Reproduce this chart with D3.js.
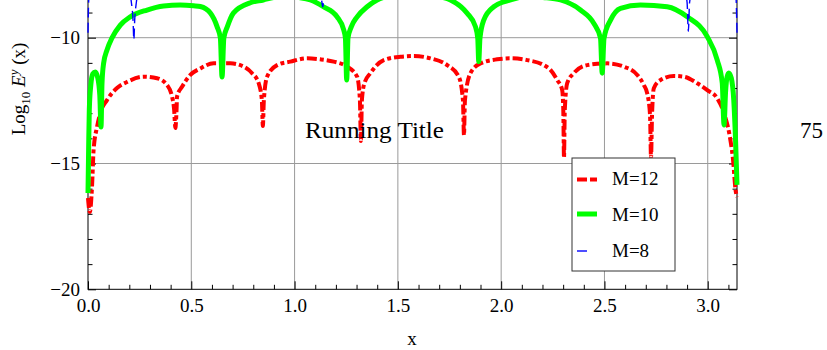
<!DOCTYPE html>
<html>
<head>
<meta charset="utf-8">
<script src="https://cdn.jsdelivr.net/npm/d3@7"></script>
<style>
  html, body { margin: 0; padding: 0; background: #fff; }
  svg { display: block; font-family: "Liberation Serif", "DejaVu Serif", serif; }
</style>
</head>
<body>
<svg id="chart" width="827" height="350"></svg>
<script>
// ---------- data ----------
const seriesNames = ["M=12", "M=10", "M=8"];
const xMajorTicks = [0.0, 0.5, 1.0, 1.5, 2.0, 2.5, 3.0];
const yMajorTicks = [-20, -15, -10];
const yGridTicks = [-15, -10, -5];
const xDomain = [0, Math.PI];
const yDomain = [-20, -5];

// M=12 (red, dot-dashed)
const m12 = [
  [0.0000,-16.37],[0.0087,-16.93],[0.0194,-15.93],[0.0271,-14.46],[0.0436,-13.55],[0.0596,-12.99],
  [0.0920,-12.48],[0.1404,-12.00],[0.1889,-11.76],[0.2692,-11.55],[0.3341,-11.61],[0.3826,-11.88],
  [0.4068,-12.34],[0.4170,-12.87],[0.4228,-13.59],[0.4286,-12.87],[0.4310,-12.34],[0.4552,-11.95],
  [0.4954,-11.48],[0.5438,-11.22],[0.6082,-11.02],[0.6891,-11.02],[0.7535,-11.15],[0.7942,-11.41],
  [0.8262,-11.81],[0.8416,-12.48],[0.8465,-13.51],[0.8513,-12.48],[0.8668,-11.55],[0.9153,-11.09],
  [0.9797,-10.95],[1.0605,-10.82],[1.1250,-10.86],[1.1893,-10.95],[1.2542,-11.15],[1.3027,-11.55],
  [1.3162,-12.48],[1.3211,-14.11],[1.3259,-12.48],[1.3380,-11.81],[1.3670,-11.41],[1.4315,-10.89],
  [1.5123,-10.76],[1.5768,-10.73],[1.6576,-10.82],[1.7385,-11.09],[1.7947,-11.55],[1.8150,-12.48],
  [1.8199,-13.87],[1.8247,-12.48],[1.8513,-11.41],[1.8998,-11.02],[1.9806,-10.86],[2.0450,-10.82],
  [2.1259,-10.89],[2.2063,-11.09],[2.2387,-11.28],[2.2712,-11.68],[2.2954,-12.08],[2.3007,-12.87],
  [2.3041,-14.78],[2.3080,-12.87],[2.3196,-11.81],[2.3516,-11.41],[2.4165,-11.09],[2.5133,-11.02],
  [2.5937,-11.15],[2.6586,-11.48],[2.6906,-11.88],[2.7070,-12.21],[2.7206,-13.07],[2.7254,-14.78],
  [2.7303,-13.07],[2.7390,-12.01],[2.7714,-11.68],[2.8358,-11.52],[2.8843,-11.55],[2.9492,-11.81],
  [2.9976,-12.08],[3.0460,-12.41],[3.0814,-13.07],[3.1056,-13.87],[3.1225,-14.86],[3.1346,-16.05],
  [3.1416,-16.33]
];

// M=10 (green, solid thick)
const m10 = [
  [0.0000,-16.17],[0.0030,-14.46],[0.0063,-12.87],[0.0136,-11.88],[0.0232,-11.44],[0.0354,-11.36],
  [0.0475,-11.60],[0.0571,-12.28],[0.0630,-13.55],[0.0678,-11.81],[0.0755,-11.02],[0.0920,-10.49],
  [0.1162,-10.01],[0.1564,-9.50],[0.2048,-9.17],[0.2857,-8.90],[0.3661,-8.74],[0.4470,-8.70],
  [0.5114,-8.73],[0.5438,-8.76],[0.5923,-9.02],[0.6247,-9.56],[0.6407,-10.01],[0.6489,-11.56],
  [0.6576,-10.01],[0.6746,-9.56],[0.7036,-9.02],[0.7860,-8.61],[0.8489,-8.50],[0.9000,-8.40],
  [0.9600,-8.35],[1.0200,-8.40],[1.0765,-8.50],[1.1395,-8.77],[1.2058,-9.17],[1.2378,-9.69],
  [1.2460,-10.01],[1.2523,-11.68],[1.2586,-10.01],[1.2750,-9.56],[1.3027,-9.17],[1.3511,-8.77],
  [1.3995,-8.50],[1.4700,-8.33],[1.5710,-8.27],[1.6700,-8.33],[1.7545,-8.50],[1.8354,-9.03],
  [1.8755,-9.56],[1.8867,-10.02],[1.8915,-10.95],[1.8973,-10.02],[1.9157,-9.30],[1.9642,-8.77],
  [2.0450,-8.50],[2.1300,-8.35],[2.2000,-8.40],[2.2872,-8.50],[2.3840,-8.90],[2.4484,-9.43],
  [2.4809,-10.02],[2.4891,-11.41],[2.4978,-10.02],[2.5293,-9.30],[2.5777,-8.83],[2.6746,-8.70],
  [2.8039,-8.77],[2.9007,-9.17],[2.9976,-9.96],[3.0460,-10.89],[3.0702,-11.80],[3.0789,-13.47],
  [3.0862,-12.16],[3.0935,-11.56],[3.1017,-11.40],[3.1138,-11.60],[3.1259,-12.48],[3.1346,-14.07],
  [3.1416,-15.85]
];

// M=8 (blue, thin dashed) — mostly above the visible window
const m8 = [
  [0.000,-9.80],[0.003,-8.60],[0.012,-7.70],[0.040,-7.20],[0.100,-7.10],[0.160,-7.50],[0.195,-8.00],
  [0.210,-8.60],[0.218,-9.30],[0.222,-10.08],[0.226,-9.30],[0.234,-8.60],[0.250,-8.00],[0.300,-7.40],
  [0.400,-7.00],[0.500,-7.10],[0.600,-7.50],[0.660,-7.95],[0.680,-8.20],[0.700,-7.95],[0.760,-7.50],
  [0.880,-7.00],[1.000,-7.20],[1.080,-7.70],[1.120,-8.20],[1.130,-8.45],[1.136,-8.77],[1.142,-8.45],
  [1.152,-8.20],[1.200,-7.70],[1.300,-7.20],[1.450,-7.30],[1.550,-7.90],[1.571,-8.15],[1.590,-7.90],
  [1.700,-7.30],[1.850,-7.20],[1.950,-7.70],[1.990,-8.10],[2.005,-8.35],[2.020,-8.10],[2.060,-7.70],
  [2.150,-7.20],[2.270,-7.00],[2.380,-7.50],[2.440,-7.95],[2.460,-8.20],[2.480,-7.95],[2.540,-7.50],
  [2.640,-7.10],[2.750,-7.00],[2.840,-7.40],[2.885,-8.00],[2.900,-8.60],[2.906,-9.75],[2.912,-8.60],
  [2.930,-8.00],[2.980,-7.50],[3.040,-7.10],[3.100,-7.20],[3.130,-7.70],[3.138,-8.60],[3.1416,-9.80]
];

// ---------- layout ----------
const svg = d3.select("#chart");
const L = 88, R = 737, B = 289.3;
const x = d3.scaleLinear().domain(xDomain).range([L, R]);
const y = d3.scaleLinear().domain(yDomain).range([B, B - 15 * 25.16]);
const T = y(yDomain[1]);
const FS = 19;

// gridlines
const grid = svg.append("g").attr("stroke", "#9a9a9a").attr("stroke-width", 1);
grid.selectAll("line.v").data(xMajorTicks.filter(d => d > 0))
  .join("line").attr("x1", d => x(d)).attr("x2", d => x(d)).attr("y1", B).attr("y2", T);
grid.selectAll("line.h").data(yGridTicks)
  .join("line").attr("x1", L).attr("x2", R).attr("y1", d => y(d)).attr("y2", d => y(d));

// minor ticks
const xMinor = d3.range(1, 32).map(i => i / 10).filter(v => Math.abs(v * 2 - Math.round(v * 2)) > 1e-6);
const yMinor = d3.range(-19, -4).filter(v => v % 5 !== 0);

function styleAxis(g) {
  g.selectAll("path.domain").remove();
  g.selectAll("line").attr("stroke", "#000").attr("stroke-width", 1);
  g.selectAll("text").attr("font-family", "Liberation Serif").attr("font-size", FS).attr("fill", "#000");
}

svg.append("g").attr("transform", `translate(0,${B})`)
  .call(d3.axisBottom(x).tickValues(xMajorTicks).tickSizeInner(-8).tickSizeOuter(0).tickPadding(9).tickFormat(d3.format(".1f")))
  .call(styleAxis);
svg.append("g").attr("transform", `translate(0,${B})`)
  .call(d3.axisBottom(x).tickValues(xMinor).tickSizeInner(-4.5).tickSizeOuter(0).tickFormat(""))
  .call(styleAxis);
svg.append("g").attr("transform", `translate(${L},0)`)
  .call(d3.axisLeft(y).tickValues(yMajorTicks).tickSizeInner(-8).tickSizeOuter(0).tickPadding(8).tickFormat(d3.format("d")))
  .call(styleAxis);
svg.append("g").attr("transform", `translate(${L},0)`)
  .call(d3.axisLeft(y).tickValues(yMinor).tickSizeInner(-4.5).tickSizeOuter(0).tickFormat(""))
  .call(styleAxis);
svg.append("g").attr("transform", `translate(${R},0)`)
  .call(d3.axisRight(y).tickValues(yMajorTicks).tickSizeInner(-8).tickSizeOuter(0).tickFormat(""))
  .call(styleAxis);
svg.append("g").attr("transform", `translate(${R},0)`)
  .call(d3.axisRight(y).tickValues(yMinor).tickSizeInner(-4.5).tickSizeOuter(0).tickFormat(""))
  .call(styleAxis);

// frame
svg.append("rect").attr("x", L).attr("y", T).attr("width", R - L).attr("height", B - T)
  .attr("fill", "none").attr("stroke", "#000").attr("stroke-width", 1);

// curves
const line = d3.line().x(d => x(d[0])).y(d => y(d[1])).curve(d3.curveMonotoneX);
const styles = [
  { data: m12, color: "#ff0000", width: 4, dash: "10,3,4,3" },
  { data: m10, color: "#00ff00", width: 5, dash: null },
  { data: m8,  color: "#0000ff", width: 1.4, dash: "10,5" }
];
styles.forEach(s => {
  svg.append("path").datum(s.data)
    .attr("d", line)
    .attr("fill", "none")
    .attr("stroke", s.color)
    .attr("stroke-width", s.width)
    .attr("stroke-dasharray", s.dash)
    .attr("stroke-linejoin", "round");
});

// running title and page number
svg.append("text").attr("x", 305).attr("y", 138).attr("font-size", 23)
  .attr("textLength", 139).attr("lengthAdjust", "spacingAndGlyphs").text("Running Title");
svg.append("text").attr("x", 800).attr("y", 138).attr("font-size", 23).text("75");

// axis labels
svg.append("text").attr("x", 412).attr("y", 345).attr("text-anchor", "middle")
  .attr("font-size", FS).text("x");
const yl = svg.append("text").attr("transform", "translate(25,89) rotate(-90)")
  .attr("text-anchor", "middle").attr("font-size", FS);
yl.append("tspan").text("Log");
yl.append("tspan").attr("font-size", 13).attr("dy", 5).text("10");
yl.append("tspan").attr("dy", -5).text(" ");
yl.append("tspan").attr("font-style", "italic").text("E");
yl.append("tspan").attr("font-style", "italic").attr("font-size", 13).attr("dy", -7).text("y");
yl.append("tspan").attr("dy", 7).text(" (x)");

// legend
const lg = svg.append("g");
lg.append("rect").attr("x", 572).attr("y", 158).attr("width", 103).attr("height", 113)
  .attr("fill", "#fff").attr("stroke", "#333").attr("stroke-width", 1);
const legendRows = [179.5, 214, 251];
const legendText = [185, 221, 257];
styles.forEach((s, i) => {
  lg.append("line").attr("x1", 577).attr("x2", i === 2 ? 587 : 597)
    .attr("y1", legendRows[i]).attr("y2", legendRows[i])
    .attr("stroke", s.color).attr("stroke-width", s.width)
    .attr("stroke-dasharray", i === 0 ? "10,3,7,3" : null);
  lg.append("text").attr("x", 612).attr("y", legendText[i]).attr("font-size", FS).text(seriesNames[i]);
});
</script>
</body>
</html>
